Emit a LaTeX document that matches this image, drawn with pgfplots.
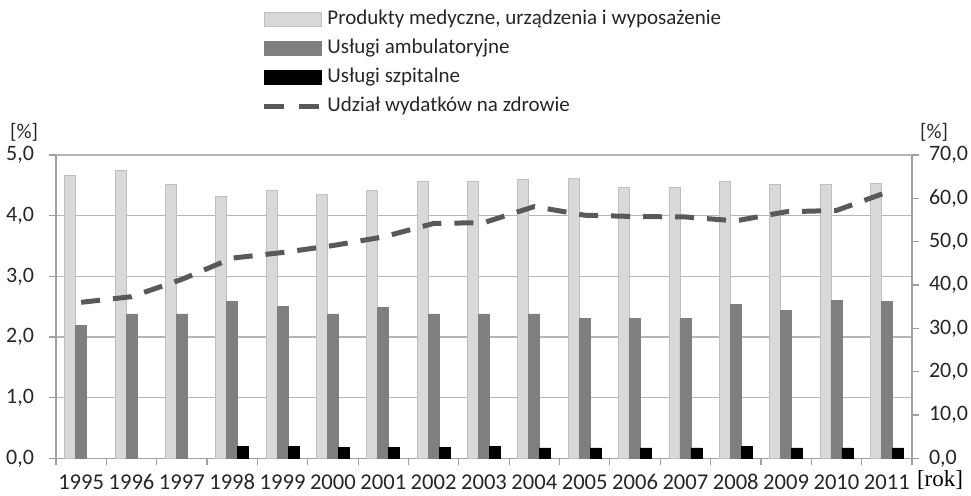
\documentclass[border=0pt]{standalone}
\usepackage{fontspec}
\setmainfont{Carlito}
\newfontfamily\serifrok{Liberation Serif}
\usepackage{pgfplots}
\pgfplotsset{compat=1.18}
\definecolor{lightbar}{HTML}{D9D9D9}
\definecolor{lightedge}{HTML}{BFBFBF}
\definecolor{midbar}{HTML}{7F7F7F}
\definecolor{linegray}{HTML}{595959}
\definecolor{gridgray}{HTML}{B5B5B5}
\definecolor{axisgray}{HTML}{A0A0A0}
\definecolor{txt}{HTML}{262626}
\pgfplotsset{
  barlegend/.style={legend image code/.code={\draw[##1] (0pt,-3.5pt) rectangle (28.5pt,3.5pt);}},
  linelegend/.style={legend image code/.code={\draw[##1] (0pt,0pt) -- (28.5pt,0pt);}},
  common/.style={
    scale only axis, width=428pt, height=151.65pt,
    xmin=-0.5, xmax=16.5,
    axis line style={axisgray, line width=0.6pt},
    tick style={axisgray, line width=0.6pt},
    tick align=outside, major tick length=3.5pt,
    /pgf/number format/assume math mode=true,
    yticklabel style={font=\fontsize{11}{13}\selectfont, text=txt,
      /pgf/number format/fixed, /pgf/number format/fixed zerofill,
      /pgf/number format/precision=1, /pgf/number format/use comma},
    xticklabel style={font=\fontsize{11.3}{13}\selectfont, text=txt, yshift=-4.5pt},
  }
}

\begin{document}
\begin{tikzpicture}
\begin{axis}[common,
  ybar=0pt, bar width=5.5pt,
  ymin=0, ymax=5, ytick={0,1,...,5},
  axis x line*=bottom, axis y line*=left,
  yticklabel style={xshift=-4pt},
  ymajorgrids, grid style={gridgray, line width=0.6pt},
  xtick={-0.5,0.5,...,16.5}, xticklabels={},
  extra x ticks={0,1,...,16},
  extra x tick labels={1995,1996,1997,1998,1999,2000,2001,2002,2003,2004,2005,2006,2007,2008,2009,2010,2011},
  extra x tick style={major tick length=0pt, grid=none},
  legend style={draw=none, fill=none, at={(0.2325,1)}, anchor=south west, yshift=17pt,
    font=\fontsize{10.5}{12}\selectfont, text=txt, row sep=4pt,
    nodes={inner ysep=0pt, text height=8pt, text depth=2.5pt}},
  legend cell align=left,
]
\addplot[fill=lightbar, draw=lightedge, barlegend]
  coordinates {(0,4.66) (1,4.75) (2,4.52) (3,4.31) (4,4.41) (5,4.35) (6,4.42) (7,4.57) (8,4.57)
               (9,4.59) (10,4.62) (11,4.46) (12,4.46) (13,4.57) (14,4.52) (15,4.52) (16,4.53)};
\addlegendentry{Produkty medyczne, urządzenia i wyposażenie}
\addplot[fill=midbar, draw=midbar, barlegend]
  coordinates {(0,2.19) (1,2.38) (2,2.38) (3,2.58) (4,2.51) (5,2.38) (6,2.49) (7,2.38) (8,2.38)
               (9,2.38) (10,2.30) (11,2.30) (12,2.30) (13,2.54) (14,2.43) (15,2.60) (16,2.58)};
\addlegendentry{Usługi ambulatoryjne}
\addplot[fill=black, draw=black, barlegend]
  coordinates {(3,0.20) (4,0.20) (5,0.18) (6,0.18) (7,0.18) (8,0.19)
               (9,0.17) (10,0.17) (11,0.17) (12,0.17) (13,0.19) (14,0.17) (15,0.17) (16,0.17)};
\addlegendentry{Usługi szpitalne}
\addlegendimage{linegray, line width=2.5pt, dash pattern=on 10pt off 7.5pt, linelegend}
\addlegendentry{Udział wydatków na zdrowie}
\end{axis}
\begin{axis}[common,
  ymin=0, ymax=70, ytick={0,10,...,70},
  yticklabel style={xshift=1.5pt},
  axis y line*=right, axis x line=none,
]
\addplot[linegray, line width=2.5pt, dash pattern=on 9.5pt off 6.5pt]
  coordinates {(0,36.0) (1,37.3) (2,41.3) (3,46.2) (4,47.5) (5,49.1) (6,51.1) (7,54.2) (8,54.4)
               (9,58.1) (10,56.1) (11,55.8) (12,55.7) (13,54.8) (14,56.9) (15,57.2) (16,61.4)};
\end{axis}
\node[font=\fontsize{10.5}{12}\selectfont, text=txt] at (-16pt,163pt) {[\%]};
\node[font=\fontsize{10.5}{12}\selectfont, text=txt] at (439pt,163pt) {[\%]};
\node[font=\serifrok\fontsize{11.5}{13}\selectfont, text=black, anchor=base] at (442pt,-14.2pt) {[rok]};
\pgfresetboundingbox
\path[use as bounding box] (-28pt,-18.85pt) rectangle (457.5pt,229.15pt);
\end{tikzpicture}
\end{document}
